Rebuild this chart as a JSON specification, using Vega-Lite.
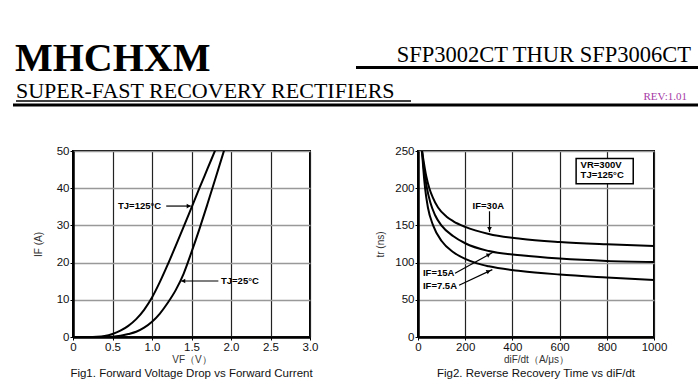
{
  "$schema": "https://vega.github.io/schema/vega-lite/v6.json",
  "padding": 0,
  "background": "white",
  "spacing": 5,
  "config": {
    "view": {"stroke": "black", "strokeWidth": 2},
    "axis": {
      "domainColor": "black", "domainWidth": 2.5, "tickColor": "black", "tickSize": 3, "tickWidth": 1,
      "labelColor": "#111", "labelFont": "Liberation Sans", "labelFontSize": 11.5, "labelPadding": 1,
      "titleFont": "Liberation Sans", "titleFontSize": 10, "titleFontWeight": "normal", "titleColor": "#333",
      "labelFlush": false, "labelOverlap": false, "gridOpacity": 1
    },
    "axisX": {"gridColor": "#222", "gridWidth": 1.2, "titlePadding": 2},
    "axisY": {"gridColor": "#999", "gridWidth": 1.5},
    "text": {"font": "Liberation Sans"}
  },
  "vconcat": [
    {
      "width": 628,
      "height": 137,
      "view": {"stroke": "transparent"},
      "encoding": {
        "x": {"field": "x", "type": "quantitative", "scale": {"domain": [72, 700], "nice": false, "zero": false}, "axis": null},
        "y": {"field": "y", "type": "quantitative", "scale": {"domain": [0, 137], "nice": false, "zero": false, "reverse": true}, "axis": null}
      },
      "layer": [
        {
          "data": {"values": [{"x": 14, "y": 70, "t": "MHCHXM"}]},
          "mark": {"type": "text", "align": "left", "baseline": "alphabetic", "font": "Liberation Serif", "fontSize": 40, "fontWeight": "bold", "color": "black"},
          "encoding": {"text": {"field": "t"}}
        },
        {
          "data": {"values": [{"x": 690, "y": 61, "t": "SFP3002CT THUR SFP3006CT"}]},
          "mark": {"type": "text", "align": "right", "baseline": "alphabetic", "font": "Liberation Serif", "fontSize": 22.5, "color": "black"},
          "encoding": {"text": {"field": "t"}}
        },
        {
          "data": {"values": [{"x": 15, "y": 97, "t": "SUPER-FAST RECOVERY RECTIFIERS"}]},
          "mark": {"type": "text", "align": "left", "baseline": "alphabetic", "font": "Liberation Serif", "fontSize": 22, "color": "black"},
          "encoding": {"text": {"field": "t"}}
        },
        {
          "data": {"values": [{"x": 686, "y": 99, "t": "REV:1.01"}]},
          "mark": {"type": "text", "align": "right", "baseline": "alphabetic", "font": "Liberation Serif", "fontSize": 11, "color": "#a63aa6"},
          "encoding": {"text": {"field": "t"}}
        },
        {
          "data": {"values": [{"x": 355, "x2": 697, "y": 66.5}, {"x": 12, "x2": 697, "y": 104}]},
          "mark": {"type": "rule", "color": "black", "strokeWidth": 3},
          "encoding": {"x2": {"field": "x2"}}
        },
        {
          "data": {"values": [{"x": 15, "x2": 410, "y": 100}]},
          "mark": {"type": "rule", "color": "black", "strokeWidth": 1.5},
          "encoding": {"x2": {"field": "x2"}}
        }
      ]
    },
    {
      "bounds": "flush",
      "spacing": 108,
      "hconcat": [
        {
          "width": 237,
          "height": 186,
          "title": {"text": "Fig1. Forward Voltage Drop vs Forward Current", "orient": "bottom", "frame": "group", "anchor": "middle", "font": "Liberation Sans", "fontSize": 11.5, "fontWeight": "normal", "color": "#111", "offset": 3},
          "encoding": {
            "x": {"field": "V", "type": "quantitative", "scale": {"domain": [0, 3], "nice": false, "zero": false},
                  "axis": {"title": "VF（V）", "values": [0, 0.5, 1, 1.5, 2, 2.5, 3], "labelExpr": "datum.value == 0 ? '0' : format(datum.value, '.1f')"}},
            "y": {"field": "I", "type": "quantitative", "scale": {"domain": [0, 50], "nice": false},
                  "axis": {"title": "IF (A)", "values": [0, 10, 20, 30, 40, 50], "minExtent": 72, "maxExtent": 72, "titleX": -30}}
          },
          "layer": [
            {
              "data": {"values": [
                {"T": "125", "V": 0, "I": 0}, {"T": "125", "V": 0.2, "I": 0}, {"T": "125", "V": 0.3, "I": 0.05}, {"T": "125", "V": 0.4, "I": 0.25},
                {"T": "125", "V": 0.5, "I": 0.8}, {"T": "125", "V": 0.6, "I": 1.7}, {"T": "125", "V": 0.7, "I": 3.0}, {"T": "125", "V": 0.8, "I": 4.8},
                {"T": "125", "V": 0.9, "I": 7.3}, {"T": "125", "V": 1.0, "I": 10.6}, {"T": "125", "V": 1.1, "I": 14.8}, {"T": "125", "V": 1.2, "I": 19.5},
                {"T": "125", "V": 1.3, "I": 24.5}, {"T": "125", "V": 1.4, "I": 29.6}, {"T": "125", "V": 1.5, "I": 34.8}, {"T": "125", "V": 1.6, "I": 40.0},
                {"T": "125", "V": 1.7, "I": 45.1}, {"T": "125", "V": 1.8, "I": 50.2},
                {"T": "25", "V": 0, "I": 0}, {"T": "25", "V": 0.3, "I": 0}, {"T": "25", "V": 0.4, "I": 0.02}, {"T": "25", "V": 0.5, "I": 0.1},
                {"T": "25", "V": 0.6, "I": 0.35}, {"T": "25", "V": 0.7, "I": 0.8}, {"T": "25", "V": 0.8, "I": 1.4}, {"T": "25", "V": 0.9, "I": 2.5},
                {"T": "25", "V": 1.0, "I": 4.1}, {"T": "25", "V": 1.1, "I": 6.3}, {"T": "25", "V": 1.2, "I": 9.2}, {"T": "25", "V": 1.3, "I": 12.6},
                {"T": "25", "V": 1.4, "I": 17.0}, {"T": "25", "V": 1.5, "I": 22.8}, {"T": "25", "V": 1.6, "I": 29.0}, {"T": "25", "V": 1.7, "I": 35.6},
                {"T": "25", "V": 1.8, "I": 42.4}, {"T": "25", "V": 1.9, "I": 49.3}, {"T": "25", "V": 1.92, "I": 50.7}
              ]},
              "mark": {"type": "line", "color": "black", "strokeWidth": 2, "interpolate": "monotone", "clip": true},
              "encoding": {"detail": {"field": "T"}}
            },
            {
              "data": {"values": [{"V": 0.57, "I": 35.2, "label": "TJ=125°C"}, {"V": 1.873, "I": 15.05, "label": "TJ=25°C"}]},
              "mark": {"type": "text", "align": "left", "baseline": "middle", "fontSize": 9.5, "fontWeight": "bold", "color": "black"},
              "encoding": {"text": {"field": "label"}}
            },
            {
              "data": {"values": [{"V": 1.18, "I": 35.2, "V2": 1.49, "I2": 35.2}, {"V": 1.84, "I": 15.05, "V2": 1.37, "I2": 15.05}]},
              "mark": {"type": "rule", "color": "black", "strokeWidth": 1.2},
              "encoding": {"x2": {"field": "V2"}, "y2": {"field": "I2"}}
            },
            {
              "data": {"values": [{"V": 1.465, "I": 35.2}]},
              "mark": {"type": "point", "shape": "triangle-right", "filled": true, "color": "black", "size": 22, "opacity": 1}
            },
            {
              "data": {"values": [{"V": 1.395, "I": 15.05}]},
              "mark": {"type": "point", "shape": "triangle-left", "filled": true, "color": "black", "size": 22, "opacity": 1}
            }
          ]
        },
        {
          "width": 236,
          "height": 186,
          "title": {"text": "Fig2. Reverse Recovery Time vs diF/dt", "orient": "bottom", "frame": "group", "anchor": "middle", "font": "Liberation Sans", "fontSize": 11.5, "fontWeight": "normal", "color": "#111", "offset": 3},
          "encoding": {
            "x": {"field": "di", "type": "quantitative", "scale": {"domain": [0, 1000], "nice": false, "zero": false},
                  "axis": {"title": "diF/dt（A/μs）", "values": [0, 200, 400, 600, 800, 1000], "format": "d"}},
            "y": {"field": "t", "type": "quantitative", "scale": {"domain": [0, 250], "nice": false},
                  "axis": {"title": "tr (ns)", "values": [0, 50, 100, 150, 200, 250], "titleX": -33}}
          },
          "layer": [
            {
              "data": {"values": [
                {"IF": "30A", "di": 17, "t": 250}, {"IF": "30A", "di": 25, "t": 234}, {"IF": "30A", "di": 35, "t": 216}, {"IF": "30A", "di": 48, "t": 200},
                {"IF": "30A", "di": 62, "t": 188}, {"IF": "30A", "di": 85, "t": 174}, {"IF": "30A", "di": 120, "t": 162}, {"IF": "30A", "di": 150, "t": 155.5},
                {"IF": "30A", "di": 200, "t": 148}, {"IF": "30A", "di": 300, "t": 138.5}, {"IF": "30A", "di": 435, "t": 132}, {"IF": "30A", "di": 600, "t": 127.7},
                {"IF": "30A", "di": 800, "t": 124.6}, {"IF": "30A", "di": 1000, "t": 122.3},
                {"IF": "15A", "di": 17, "t": 250}, {"IF": "15A", "di": 25, "t": 226}, {"IF": "15A", "di": 38, "t": 200}, {"IF": "15A", "di": 52, "t": 181},
                {"IF": "15A", "di": 72, "t": 164}, {"IF": "15A", "di": 99, "t": 150}, {"IF": "15A", "di": 150, "t": 135.5}, {"IF": "15A", "di": 200, "t": 126},
                {"IF": "15A", "di": 300, "t": 115.5}, {"IF": "15A", "di": 435, "t": 109.8}, {"IF": "15A", "di": 600, "t": 105.4}, {"IF": "15A", "di": 800, "t": 102.2},
                {"IF": "15A", "di": 1000, "t": 100.8},
                {"IF": "7.5A", "di": 17, "t": 250}, {"IF": "7.5A", "di": 22, "t": 228}, {"IF": "7.5A", "di": 30, "t": 200}, {"IF": "7.5A", "di": 42, "t": 174},
                {"IF": "7.5A", "di": 64, "t": 150}, {"IF": "7.5A", "di": 100, "t": 129}, {"IF": "7.5A", "di": 150, "t": 114}, {"IF": "7.5A", "di": 200, "t": 105},
                {"IF": "7.5A", "di": 250, "t": 99}, {"IF": "7.5A", "di": 300, "t": 95}, {"IF": "7.5A", "di": 435, "t": 88.7}, {"IF": "7.5A", "di": 600, "t": 84},
                {"IF": "7.5A", "di": 800, "t": 80}, {"IF": "7.5A", "di": 1000, "t": 76.5}
              ]},
              "mark": {"type": "line", "color": "black", "strokeWidth": 2, "interpolate": "monotone", "clip": true},
              "encoding": {"detail": {"field": "IF"}}
            },
            {
              "data": {"values": [{"di": 670, "t": 206, "di2": 912, "t2": 240}]},
              "mark": {"type": "rect", "fill": "white", "stroke": "black", "strokeWidth": 1.5},
              "encoding": {"x2": {"field": "di2"}, "y2": {"field": "t2"}}
            },
            {
              "data": {"values": [
                {"di": 689, "t": 230.8, "label": "VR=300V"}, {"di": 689, "t": 217.3, "label": "TJ=125°C"},
                {"di": 21, "t": 85.6, "label": "IF=15A"}, {"di": 21, "t": 68.5, "label": "IF=7.5A"}
              ]},
              "mark": {"type": "text", "align": "left", "baseline": "middle", "fontSize": 9.5, "fontWeight": "bold", "color": "black"},
              "encoding": {"text": {"field": "label"}}
            },
            {
              "data": {"values": [{"di": 298, "t": 176.6, "label": "IF=30A"}]},
              "mark": {"type": "text", "align": "center", "baseline": "middle", "fontSize": 9.5, "fontWeight": "bold", "color": "black"},
              "encoding": {"text": {"field": "label"}}
            },
            {
              "data": {"values": [
                {"di": 303, "t": 169, "di2": 303, "t2": 141},
                {"di": 157, "t": 85.6, "di2": 316, "t2": 113.5},
                {"di": 174, "t": 69.5, "di2": 315, "t2": 90.6}
              ]},
              "mark": {"type": "rule", "color": "black", "strokeWidth": 1.2},
              "encoding": {"x2": {"field": "di2"}, "y2": {"field": "t2"}}
            },
            {
              "data": {"values": [{"di": 303, "t": 145}]},
              "mark": {"type": "point", "shape": "triangle-down", "filled": true, "color": "black", "size": 22, "opacity": 1}
            },
            {
              "data": {"values": [{"di": 300, "t": 110.7}]},
              "mark": {"type": "point", "shape": "triangle-up", "angle": 61, "filled": true, "color": "black", "size": 22, "opacity": 1}
            },
            {
              "data": {"values": [{"di": 299, "t": 88.2}]},
              "mark": {"type": "point", "shape": "triangle-up", "angle": 65, "filled": true, "color": "black", "size": 22, "opacity": 1}
            }
          ]
        }
      ]
    }
  ]
}
